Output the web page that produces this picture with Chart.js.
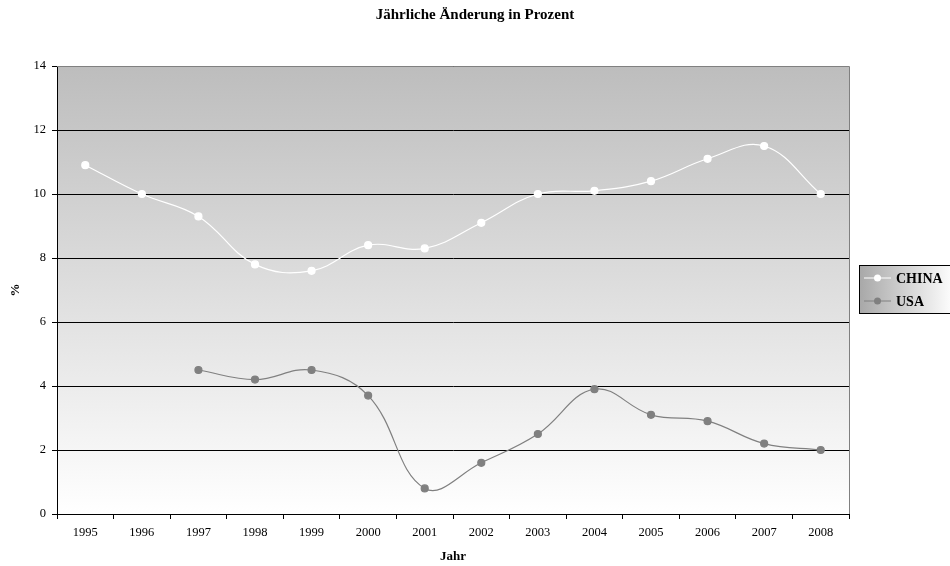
<!DOCTYPE html>
<html>
<head>
<meta charset="utf-8">
<script src="https://cdn.jsdelivr.net/npm/chart.js@4/dist/chart.umd.min.js"></script>
<style>
html,body{margin:0;padding:0;background:#fff;}
#wrap{width:950px;height:566px;position:relative;}
</style>
</head>
<body>
<div id="wrap"><canvas id="c" width="950" height="566"></canvas></div>
<script>
const years = ['1995','1996','1997','1998','1999','2000','2001','2002','2003','2004','2005','2006','2007','2008'];
const china = [10.9,10.0,9.3,7.8,7.6,8.4,8.3,9.1,10.0,10.1,10.4,11.1,11.5,10.0];
const usa = [null,null,4.5,4.2,4.5,3.7,0.8,1.6,2.5,3.9,3.1,2.9,2.2,2.0];
const seriesNames = ['CHINA','USA'];
const titleText = 'Jährliche Änderung in Prozent';
const xTitle = 'Jahr';
const yTitle = '%';
const yMin = 0, yMax = 14, yStep = 2;

const FONT = '"Liberation Serif", "DejaVu Serif", serif';
const colors = ['#ffffff','#808080'];

const bgPlugin = {
  id:'bg',
  beforeDraw(chart){
    const {ctx, chartArea:a} = chart;
    const g = ctx.createLinearGradient(0,a.top,0,a.bottom);
    g.addColorStop(0,'#bdbdbd');
    g.addColorStop(1,'#ffffff');
    ctx.save();
    ctx.fillStyle = g;
    ctx.fillRect(a.left,a.top,a.right-a.left,a.bottom-a.top);
    ctx.restore();
  },
  afterDraw(chart){
    const {ctx, chartArea:a} = chart;
    ctx.save();
    ctx.strokeStyle = '#808080';
    ctx.lineWidth = 1;
    ctx.beginPath();
    ctx.moveTo(a.left, a.top+0.5); ctx.lineTo(a.right+0.5, a.top+0.5); ctx.lineTo(a.right+0.5, a.bottom);
    ctx.stroke();
    // legend
    const lx = 859.5, ly = 265.5, lw = 95, lh = 48;
    const g = ctx.createLinearGradient(lx,0,lx+lw,0);
    g.addColorStop(0,'#a8a8a8');
    g.addColorStop(1,'#ffffff');
    ctx.fillStyle = g;
    ctx.fillRect(lx,ly,lw,lh);
    ctx.strokeStyle = '#000';
    ctx.strokeRect(lx,ly,lw,lh);
    ctx.font = 'bold 14px ' + FONT;
    ctx.textBaseline = 'middle';
    seriesNames.forEach((n,i)=>{
      const y = ly + 12.5 + i*23;
      ctx.strokeStyle = colors[i];
      ctx.lineWidth = 1;
      ctx.beginPath(); ctx.moveTo(864,y); ctx.lineTo(891,y); ctx.stroke();
      ctx.fillStyle = colors[i];
      ctx.beginPath(); ctx.arc(877.5,y,3.5,0,Math.PI*2); ctx.fill();
      ctx.fillStyle = '#000';
      ctx.fillText(n, 896, y+1);
    });
    ctx.restore();
  }
};

new Chart(document.getElementById('c'), {
  type:'line',
  data:{
    labels: years,
    datasets:[
      {label:seriesNames[0], data:china, borderColor:colors[0], backgroundColor:colors[0], pointBackgroundColor:colors[0], pointBorderColor:colors[0], borderWidth:1.2, pointRadius:3.5, tension:0.4},
      {label:seriesNames[1], data:usa, borderColor:colors[1], backgroundColor:colors[1], pointBackgroundColor:colors[1], pointBorderColor:colors[1], borderWidth:1.2, pointRadius:3.5, tension:0.4, spanGaps:false}
    ]
  },
  options:{
    responsive:false,
    animation:false,
    layout:{padding:0},
    plugins:{
      legend:{display:false},
      tooltip:{enabled:false},
      title:{display:true, text:titleText, color:'#000', font:{family:FONT, size:15, weight:'bold'}, padding:{top:6,bottom:42}}
    },
    scales:{
      x:{
        offset:true,
        grid:{offset:true, drawOnChartArea:false, color:'#000', tickLength:5, tickColor:'#000'},
        border:{color:'#000', width:1},
        ticks:{color:'#000', font:{family:FONT, size:12.5}, padding:6, maxRotation:0, autoSkip:false},
        title:{display:true, text:xTitle, color:'#000', font:{family:FONT, size:13, weight:'bold'}, padding:{top:4,bottom:2}},
        afterFit(s){ s.height = 52; }
      },
      y:{
        min:yMin, max:yMax,
        grid:{color:'#000', tickLength:5, tickColor:'#000', lineWidth:1},
        border:{color:'#000', width:1},
        ticks:{stepSize:yStep, color:'#000', font:{family:FONT, size:12.5}, padding:6},
        title:{display:true, text:yTitle, color:'#000', font:{family:FONT, size:13, weight:'bold'}, padding:{top:8,bottom:4}},
        afterFit(s){ s.width = 57; }
      },
      yr:{
        position:'right',
        display:true,
        min:yMin, max:yMax,
        grid:{drawOnChartArea:false, drawTicks:false, display:false},
        border:{display:false},
        ticks:{display:false},
        afterFit(s){ s.width = 101; }
      }
    }
  },
  plugins:[bgPlugin]
});
</script>
</body>
</html>
